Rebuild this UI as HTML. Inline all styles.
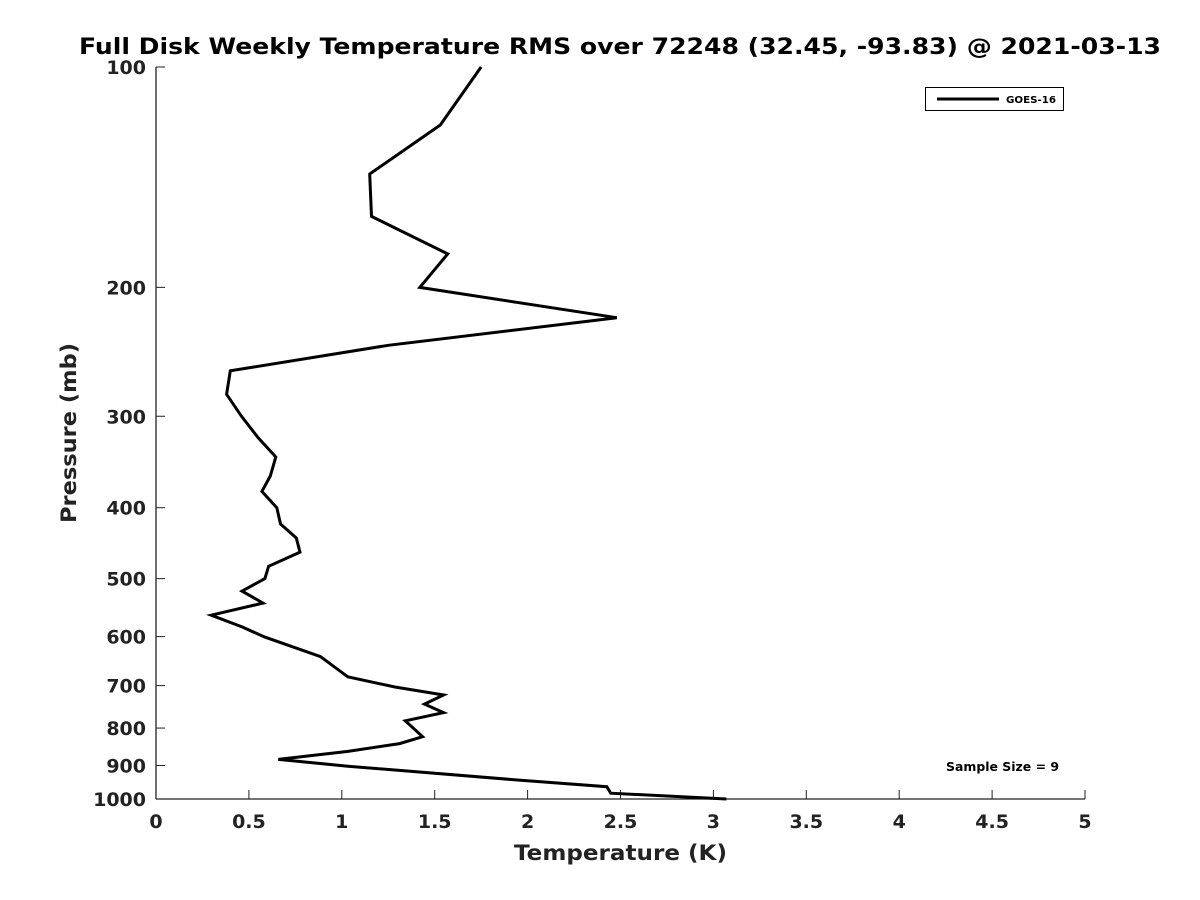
<!DOCTYPE html>
<html><head><meta charset="utf-8"><style>
body{margin:0;background:#fff}
svg{display:block;font-family:"DejaVu Sans","Liberation Sans",sans-serif}
</style></head><body>
<svg id="chart" width="1200" height="900">
<text x="79" y="54" font-size="22" font-weight="bold" fill="#000" textLength="1082" lengthAdjust="spacingAndGlyphs">Full Disk Weekly Temperature RMS over 72248 (32.45, -93.83) @ 2021-03-13</text>
<g id="axes"></g>
<path id="line" fill="none" stroke="#000" stroke-width="3" stroke-linejoin="miter"/>
<g>
<rect x="925.5" y="87.5" width="138" height="23" fill="#fff" stroke="#000" stroke-width="1"/>
<line x1="937" y1="99" x2="999" y2="99" stroke="#000" stroke-width="3"/>
<text x="1006" y="103" font-size="10" font-weight="bold" textLength="50" lengthAdjust="spacingAndGlyphs">GOES-16</text>
</g>
<text x="946" y="771" font-size="12" font-weight="bold" textLength="113" lengthAdjust="spacingAndGlyphs">Sample Size = 9</text>
<text x="514" y="860" font-size="21" font-weight="bold" fill="#222" textLength="213" lengthAdjust="spacingAndGlyphs">Temperature (K)</text>
<text transform="translate(76,523) rotate(-90)" font-size="21" font-weight="bold" fill="#222" textLength="180" lengthAdjust="spacingAndGlyphs">Pressure (mb)</text>
</svg>
<script>
const pressures=[100,120,140,160,180,200,220,240,260,280,300,321,341,362,380,400,421,440,460,481,500,520,540,561,582,601,639,681,703,721,742,762,782,822,840,861,883,902,942,962,982,1000];
const rmsValues=[1.75,1.53,1.15,1.16,1.57,1.42,2.48,1.25,0.40,0.38,0.46,0.55,0.645,0.615,0.57,0.65,0.67,0.755,0.775,0.606,0.586,0.463,0.576,0.297,0.463,0.586,0.885,1.033,1.286,1.548,1.445,1.548,1.342,1.435,1.311,1.033,0.658,1.033,1.945,2.427,2.447,3.07];
const xTicks=[0,0.5,1,1.5,2,2.5,3,3.5,4,4.5,5];
const yTicks=[100,200,300,400,500,600,700,800,900,1000];
const X0=156,X1=1085,Y0=67,Y1=799;
const xs=v=>X0+(v-0)/(5-0)*(X1-X0);
const ys=p=>Y0+(Math.log10(p)-2)/(3-2)*(Y1-Y0);
const NS="http://www.w3.org/2000/svg";
const ax=document.getElementById('axes');
function mk(t,a){const e=document.createElementNS(NS,t);for(const k in a)e.setAttribute(k,a[k]);ax.appendChild(e);return e;}
let e=mk('line',{x1:X0,y1:Y0,x2:X0,y2:Y1,stroke:'#222','stroke-width':1.3});


e=mk('line',{x1:X0,y1:Y1,x2:X1,y2:Y1,stroke:'#222','stroke-width':1.3});


xTicks.forEach(v=>{const x=xs(v);
 let t=mk('line',{x1:x,y1:Y1,x2:x,y2:Y1-9,stroke:'#222','stroke-width':1});
 
 
 let l=mk('text',{x:x,y:Y1+29,'text-anchor':'middle','font-size':19,'font-weight':'bold',fill:'#222'});
 l.textContent=String(v);
 
 
});
yTicks.forEach(p=>{const y=ys(p);
 let t=mk('line',{x1:X0,y1:y,x2:X0+9,y2:y,stroke:'#222','stroke-width':1});
 
 
 let l=mk('text',{x:X0-10,y:y+7,'text-anchor':'end','font-size':19,'font-weight':'bold',fill:'#222'});
 l.textContent=String(p);
 
 
});
document.getElementById('line').setAttribute('d',pressures.map((p,i)=>(i?'L':'M')+xs(rmsValues[i]).toFixed(1)+','+ys(p).toFixed(1)).join(''));
</script>
</body></html>
